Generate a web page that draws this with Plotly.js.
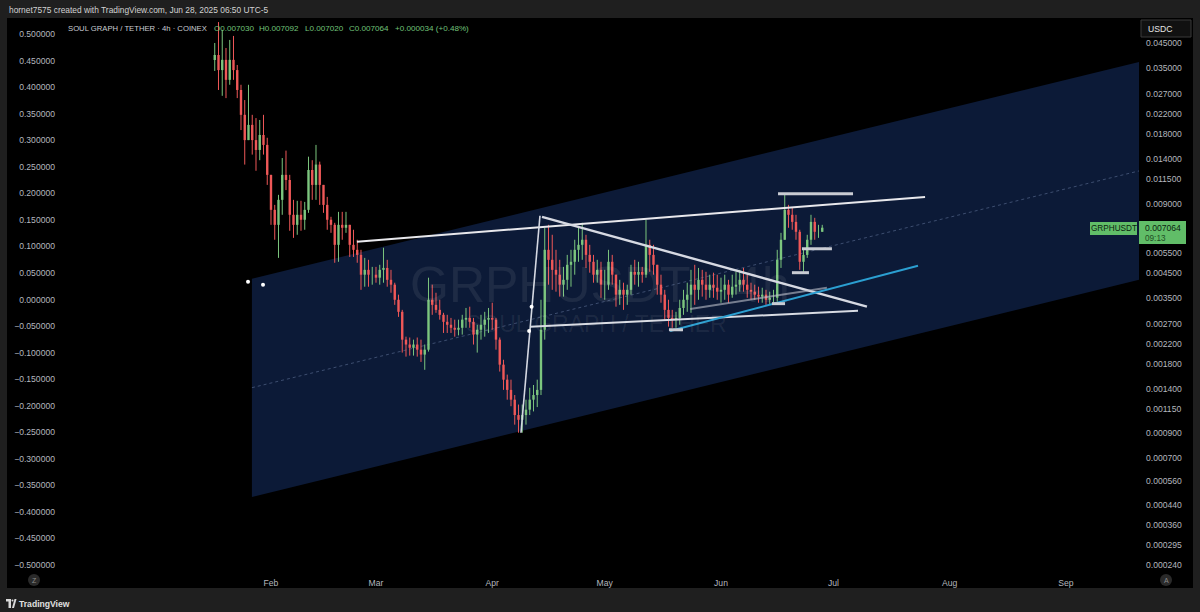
<!DOCTYPE html>
<html><head><meta charset="utf-8">
<script src="https://cdn.plot.ly/plotly-3.0.1.min.js"></script>
<style>html,body{margin:0;padding:0;background:#1f1f1f;overflow:hidden}#chart{width:1200px;height:612px}</style>
</head><body><div id="chart"></div>
<script>
// ---- Daily OHLC (GRPH/USDT, from 2025-01-17) ----
const firstDay = '2025-01-17';
const open = [0.03795,0.0399,0.0343,0.0380,0.0311,0.0380,0.0343,0.0281,0.0219,0.0170,0.0198,0.0170,0.0154,0.0179,0.0162,0.0120,0.00845,0.00727,0.00934,0.0120,0.0114,0.00804,0.00727,0.00804,0.00765,0.00845,0.0126,0.01085,0.0133,0.01085,0.00888,0.00765,0.00727,0.00595,0.00727,0.00706,0.00727,0.00595,0.00566,0.00538,0.00441,0.00463,0.00441,0.00441,0.00428,0.00463,0.00472,0.00419,0.00399,0.00343,0.00304,0.00230,0.00219,0.00212,0.00219,0.00208,0.00198,0.00208,0.00343,0.00326,0.00310,0.00295,0.00275,0.00267,0.00259,0.00254,0.00259,0.00281,0.00286,0.00275,0.00242,0.00254,0.00267,0.00281,0.00286,0.00281,0.00230,0.00179,0.00154,0.00139,0.00126,0.00108,0.00103,0.00108,0.00114,0.00126,0.00132,0.00139,0.00254,0.00566,0.00512,0.00463,0.00441,0.00399,0.00419,0.00487,0.00502,0.00566,0.00595,0.00626,0.00538,0.00502,0.00441,0.00463,0.00399,0.00399,0.00502,0.00441,0.00361,0.00379,0.00361,0.00379,0.00454,0.00441,0.00454,0.00441,0.00595,0.00538,0.00487,0.00399,0.00361,0.00310,0.00286,0.00281,0.00286,0.00316,0.00343,0.00361,0.00399,0.00379,0.00419,0.00399,0.00379,0.00399,0.00387,0.00372,0.00379,0.00399,0.00361,0.00391,0.00399,0.00419,0.00399,0.00379,0.00372,0.00361,0.00354,0.00361,0.00343,0.00350,0.00350,0.00512,0.00626,0.00845,0.00804,0.00749,0.00678,0.00502,0.00538,0.00626,0.00749,0.00678,0.00678];
const high = [0.0450,0.0555,0.0513,0.0428,0.0464,0.0483,0.0361,0.0296,0.0254,0.0296,0.0219,0.0212,0.0208,0.0219,0.0174,0.0120,0.00888,0.00982,0.0142,0.0153,0.0120,0.00934,0.00925,0.00925,0.00915,0.0144,0.0139,0.0162,0.0137,0.01085,0.00962,0.00788,0.00742,0.00828,0.00828,0.00828,0.00727,0.00692,0.00626,0.00566,0.00522,0.00512,0.00477,0.00477,0.00487,0.00578,0.00512,0.00463,0.00407,0.00361,0.00310,0.00237,0.00235,0.00230,0.00235,0.00230,0.00219,0.00428,0.00399,0.00368,0.00343,0.00301,0.00295,0.00286,0.00281,0.00281,0.00295,0.00316,0.00320,0.00286,0.00267,0.00295,0.00304,0.00316,0.00333,0.00286,0.00235,0.00188,0.00162,0.00154,0.00132,0.00120,0.00120,0.00126,0.00142,0.00146,0.00154,0.00343,0.00706,0.00727,0.00658,0.00566,0.00512,0.00477,0.00538,0.00566,0.00626,0.00706,0.00742,0.00658,0.00595,0.00538,0.00512,0.00502,0.00463,0.00566,0.00538,0.00441,0.00419,0.00407,0.00399,0.00487,0.00512,0.00502,0.00477,0.00765,0.00626,0.00595,0.00487,0.00441,0.00379,0.00343,0.00310,0.00304,0.00343,0.00379,0.00407,0.00463,0.00487,0.00472,0.00463,0.00454,0.00441,0.00450,0.00441,0.00428,0.00441,0.00419,0.00441,0.00454,0.00463,0.00472,0.00441,0.00407,0.00399,0.00391,0.00387,0.00379,0.00372,0.00379,0.00566,0.00671,0.00982,0.00888,0.00862,0.00804,0.00692,0.00566,0.00658,0.00804,0.00780,0.00727,0.00727];
const low = [0.0340,0.0281,0.0265,0.0259,0.0296,0.0311,0.0259,0.0188,0.0133,0.0170,0.0147,0.0125,0.0139,0.0147,0.01085,0.00727,0.00626,0.00522,0.00804,0.0103,0.00685,0.00638,0.00658,0.00685,0.00692,0.00820,0.00934,0.00934,0.00888,0.00820,0.00692,0.00671,0.00497,0.00502,0.00626,0.00671,0.00527,0.00527,0.00497,0.00379,0.00391,0.00391,0.00399,0.00407,0.00399,0.00407,0.00391,0.00368,0.00326,0.00289,0.00202,0.00194,0.00196,0.00196,0.00194,0.00184,0.00170,0.00204,0.00295,0.00301,0.00281,0.00246,0.00246,0.00246,0.00237,0.00240,0.00242,0.00259,0.00259,0.00219,0.00202,0.00230,0.00237,0.00246,0.00254,0.00208,0.00167,0.00139,0.00126,0.00118,0.000981,0.000905,0.000905,0.000981,0.00108,0.00112,0.00117,0.00132,0.00230,0.00399,0.00379,0.00372,0.00354,0.00354,0.00379,0.00391,0.00441,0.00502,0.00512,0.00472,0.00450,0.00407,0.00407,0.00350,0.00343,0.00379,0.00399,0.00320,0.00326,0.00310,0.00326,0.00361,0.00399,0.00391,0.00407,0.00428,0.00454,0.00441,0.00361,0.00333,0.00281,0.00262,0.00259,0.00259,0.00267,0.00295,0.00304,0.00301,0.00326,0.00343,0.00354,0.00343,0.00350,0.00350,0.00343,0.00333,0.00343,0.00333,0.00350,0.00361,0.00372,0.00372,0.00350,0.00343,0.00343,0.00333,0.00333,0.00326,0.00326,0.00333,0.00336,0.00472,0.00626,0.00706,0.00692,0.00626,0.00463,0.00454,0.00522,0.00595,0.00626,0.00638,0.00678];
const close = [0.0399,0.0343,0.0380,0.0311,0.0380,0.0343,0.0281,0.0219,0.0170,0.0198,0.0170,0.0154,0.0179,0.0162,0.0120,0.00845,0.00727,0.00934,0.0120,0.0114,0.00804,0.00727,0.00804,0.00765,0.00845,0.0126,0.01085,0.0133,0.01085,0.00888,0.00765,0.00727,0.00595,0.00727,0.00706,0.00727,0.00595,0.00566,0.00538,0.00441,0.00463,0.00441,0.00441,0.00428,0.00463,0.00472,0.00419,0.00399,0.00343,0.00304,0.00230,0.00219,0.00212,0.00219,0.00208,0.00198,0.00208,0.00343,0.00326,0.00310,0.00295,0.00275,0.00267,0.00259,0.00254,0.00259,0.00281,0.00286,0.00275,0.00242,0.00254,0.00267,0.00281,0.00286,0.00281,0.00230,0.00179,0.00154,0.00139,0.00126,0.00108,0.00103,0.00108,0.00114,0.00126,0.00132,0.00139,0.00254,0.00566,0.00512,0.00463,0.00441,0.00399,0.00419,0.00487,0.00502,0.00566,0.00595,0.00626,0.00538,0.00502,0.00441,0.00463,0.00399,0.00399,0.00502,0.00441,0.00361,0.00379,0.00361,0.00379,0.00454,0.00441,0.00454,0.00441,0.00595,0.00538,0.00487,0.00399,0.00361,0.00310,0.00286,0.00281,0.00286,0.00316,0.00343,0.00361,0.00399,0.00379,0.00419,0.00399,0.00379,0.00399,0.00387,0.00372,0.00379,0.00399,0.00361,0.00391,0.00399,0.00419,0.00399,0.00379,0.00372,0.00361,0.00354,0.00361,0.00343,0.00350,0.00350,0.00512,0.00626,0.00845,0.00804,0.00749,0.00678,0.00502,0.00538,0.00626,0.00749,0.00678,0.00678,0.007064];

// ---- Drawings (anchor points in date / price) ----
const channelX = ['2025-01-26 22:00','2025-09-20 11:15','2025-09-20 11:15','2025-01-26 22:00','2025-01-26 22:00'];
const channelY = [0.004234,0.03720,0.004192,0.000475,0.004234];
const channelMidX = ['2025-01-26 22:00','2025-09-20 11:15'];
const channelMidY = [0.001421,0.01248];
const resistX = ['2025-02-23 22:00','2025-07-25 10:00'];
const resistY = [0.00614,0.00962];
const pumpX = ['2025-04-08 16:00','2025-04-13 17:30'];
const pumpY = [0.000905,0.00796];
const descX = ['2025-04-14 06:30','2025-07-09 22:00'];
const descY = [0.00788,0.00320];
const supportX = ['2025-04-11 02:00','2025-07-07 13:00'];
const supportY = [0.00262,0.00307];
const grayX = ['2025-05-23 19:00','2025-06-29 06:00'];
const grayY = [0.00313,0.00387];
const blueX = ['2025-05-18 10:00','2025-07-23 13:00'];
const blueY = [0.00251,0.00482];
const levelStart = ['2025-05-18 03:00','2025-06-14 14:00','2025-06-19 22:00','2025-06-22 14:00','2025-06-16 05:00'];
const levelEnd   = ['2025-05-21 21:00','2025-06-18 02:00','2025-06-24 11:00','2025-06-30 14:00','2025-07-06 05:00'];
const levelPrice = [0.00254,0.00330,0.00450,0.00572,0.00992];
const dotX = ['2025-01-25 21:00','2025-01-29 21:00','2025-04-10 20:00','2025-04-11 12:00'];
const dotY = [0.00411,0.00399,0.00251,0.00320];

// ---- Axes ticks ----
const rightTicks = [0.045,0.035,0.027,0.022,0.018,0.014,0.0115,0.009,0.0055,0.0045,0.0035,0.0027,0.0022,0.0018,0.0014,0.00115,0.0009,0.0007,0.00056,0.00044,0.00036,0.000295,0.00024];
const leftTicks = [0.5,0.45,0.4,0.35,0.3,0.25,0.2,0.15,0.1,0.05,0,-0.05,-0.1,-0.15,-0.2,-0.25,-0.3,-0.35,-0.4,-0.45,-0.5];
const monthTicks = ['2025-02-01','2025-03-01','2025-04-01','2025-05-01','2025-06-01','2025-07-01','2025-08-01','2025-09-01'];
const monthLabels = ['Feb','Mar','Apr','May','Jun','Jul','Aug','Sep'];

const dates = close.map((_, i) => {
  const d = new Date(firstDay + 'T00:00:00Z'); d.setUTCDate(d.getUTCDate() + i);
  return d.toISOString().slice(0, 10);
});

const UP = '#7cc67e', DN = '#ef5858';
const uw = {x:[],y:[]}, dw = {x:[],y:[]}, ub = {x:[],y:[]}, db = {x:[],y:[]};
dates.forEach((t, i) => {
  const up = close[i] >= open[i];
  const w = up ? uw : dw, b = up ? ub : db;
  w.x.push(t, t, null); w.y.push(low[i], high[i], null);
  b.x.push(t, t, null); b.y.push(open[i], close[i], null);
});

const line = (x, y, color, width, dash) => ({x, y, type:'scatter', mode:'lines', hoverinfo:'skip', showlegend:false,
  line:{color, width, dash: dash || 'solid'}});

const traces = [
  {x: channelX, y: channelY, type:'scatter', mode:'lines', fill:'toself', fillcolor:'#0c1a37', line:{width:0, color:'rgba(0,0,0,0)'}, hoverinfo:'skip', showlegend:false},
  line(channelMidX, channelMidY, 'rgba(120,140,180,0.45)', 1, 'dot'),
  {x:['2025-01-01'], y:[0], yaxis:'y2', type:'scatter', mode:'markers', marker:{opacity:0}, hoverinfo:'skip', showlegend:false},
  line(uw.x, uw.y, UP, 1), line(dw.x, dw.y, DN, 1),
  line(ub.x, ub.y, UP, 2.4), line(db.x, db.y, DN, 2.4),
  line(resistX, resistY, '#e8e8ec', 2),
  line(pumpX, pumpY, '#d4d8e2', 1.6),
  line(descX, descY, '#d6d9e2', 2.4),
  line(supportX, supportY, '#d8dbe3', 2),
  line(grayX, grayY, 'rgba(190,194,204,0.6)', 2),
  line(blueX, blueY, '#2b9fd1', 2)
];
levelPrice.forEach((p, i) => traces.push(line([levelStart[i], levelEnd[i]], [p, p], '#c9ccd3', 3)));
traces.push({x: dotX, y: dotY, type:'scatter', mode:'markers', marker:{color:'#ffffff', size:4}, hoverinfo:'skip', showlegend:false});

// pixel -> paper helpers for decorations
const PX = x => (x - 62) / 1077, PY = y => (572 - y) / 550;
const FONT = 'Liberation Sans, Arial, sans-serif';
const ann = (text, x, y, o = {}) => Object.assign({text, x: PX(x), y: PY(y), xref:'paper', yref:'paper', showarrow:false,
  xanchor:'left', yanchor:'middle', font:{family: FONT, size: 8.4, color:'#c9ccd2'}}, o);
const rect = (x0, y0, x1, y1, o = {}) => Object.assign({type:'rect', xref:'paper', yref:'paper', x0:PX(x0), x1:PX(x1), y0:PY(y1), y1:PY(y0), line:{width:0}}, o);

const GREEN = '#61bd68';
const VAL = {family:FONT, size:8.1, color:'#72c47a'};
const layout = {
  width:1200, height:612, margin:{l:62, r:61, t:22, b:40},
  paper_bgcolor:'#1f1f1f', plot_bgcolor:'#000000', showlegend:false,
  xaxis:{type:'date', range:['2024-12-07 06:30','2025-09-20 11:15'], tickvals: monthTicks, ticktext: monthLabels,
    showgrid:false, zeroline:false, showline:false, ticks:'', tickfont:{family:FONT, size:8.6, color:'#b4b7be'}, ticklabelstandoff:4},
  yaxis:{type:'log', side:'right', range:[-3.6498,-1.2554], tickvals: rightTicks, tickformat:'.6f',
    showgrid:false, zeroline:false, showline:false, ticks:'', tickfont:{family:FONT, size:8.6, color:'#b4b7be'}, ticklabelstandoff:6},
  yaxis2:{overlaying:'y', side:'left', range:[-0.5132,0.5226], tickvals: leftTicks, tickformat:'.6f',
    showgrid:false, zeroline:false, showline:false, ticks:'', tickfont:{family:FONT, size:8.6, color:'#b4b7be'}, ticklabelstandoff:6},
  shapes:[
    rect(7, 18, 1193, 588, {fillcolor:'#000000', layer:'below'}),
    rect(1141, 20, 1191, 37, {fillcolor:'#111111', line:{color:'#3a3a3a', width:1}}),
    rect(1090, 222, 1137, 235, {fillcolor: GREEN}),
    rect(1139, 221, 1186, 244, {fillcolor: GREEN}),
    {type:'circle', xref:'paper', yref:'paper', x0:PX(28), x1:PX(40), y0:PY(586), y1:PY(574), fillcolor:'#2a2a2a', line:{width:0}},
    {type:'circle', xref:'paper', yref:'paper', x0:PX(1160), x1:PX(1172), y0:PY(586), y1:PY(574), fillcolor:'#2a2a2a', line:{width:0}},
    rect(6, 599, 11, 601.5, {fillcolor:'#d9d9d9'}),
    rect(8.5, 599, 11, 608, {fillcolor:'#d9d9d9'}),
    {type:'circle', xref:'paper', yref:'paper', x0:PX(11.5), x1:PX(13.5), y0:PY(601.5), y1:PY(599.5), fillcolor:'#d9d9d9', line:{width:0}},
    {type:'path', xref:'paper', yref:'paper', path:`M ${PX(12)} ${PY(608)} L ${PX(14.5)} ${PY(599)} L ${PX(16.5)} ${PY(599)} L ${PX(14)} ${PY(608)} Z`, fillcolor:'#d9d9d9', line:{width:0}}
  ],
  annotations:[
    ann('hornet7575 created with TradingView.com, Jun 28, 2025 06:50 UTC-5', 7, 10, {font:{family:FONT, size:8.4, color:'#d2d2d2'}}),
    ann('SOUL GRAPH / TETHER · 4h · COINEX', 66, 29, {font:{family:FONT, size:7.7, color:'#c9ccd2'}}),
    ann('O0.007030', 212, 29, {font: VAL}),
    ann('H0.007092', 257, 29, {font: VAL}),
    ann('L0.007020', 303, 29, {font: VAL}),
    ann('C0.007064', 347, 29, {font: VAL}),
    ann('+0.000034 (+0.48%)', 393, 29, {font: VAL}),
    ann('USDC', 1146, 29, {font:{family:FONT, size:8.6, color:'#e6e6e6'}}),
    ann('GRPHUSDT', 1113.5, 228.5, {xanchor:'center', font:{family:FONT, size:8.2, color:'#0c2410'}}),
    ann('0.007064', 1143, 228, {font:{family:FONT, size:8.6, color:'#0c2410'}}),
    ann('09:13', 1143, 238.5, {font:{family:FONT, size:8.2, color:'#1f4d24'}}),
    ann('GRPHUSDT · 4h', 600, 285, {xanchor:'center', font:{family:FONT, size:50, color:'rgba(255,255,255,0.075)'}}),
    ann('SOUL GRAPH / TETHER', 596, 324, {xanchor:'center', font:{family:FONT, size:23, color:'rgba(255,255,255,0.075)'}}),
    ann('Z', 34, 580, {xanchor:'center', font:{family:FONT, size:7, color:'#8a8a8a'}}),
    ann('A', 1166, 580, {xanchor:'center', font:{family:FONT, size:7, color:'#8a8a8a'}}),
    ann('<b>TradingView</b>', 17, 604, {font:{family:FONT, size:8.6, color:'#e0e0e0'}})
  ]
};

Plotly.newPlot('chart', traces, layout, {staticPlot:true, displayModeBar:false});
</script></body></html>
